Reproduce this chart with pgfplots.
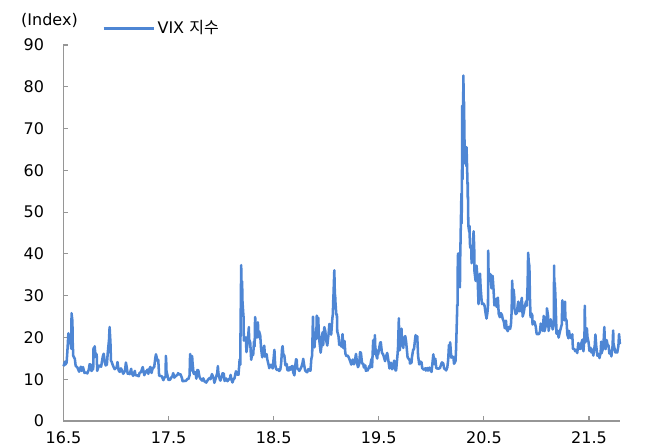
\documentclass[border=0pt]{standalone}
\usepackage{fontspec}
\setmainfont{DejaVu Sans}
\newfontfamily\kr{Noto Sans CJK KR}
\usepackage{pgfplots}
\pgfplotsset{compat=1.18}
\definecolor{vixblue}{RGB}{78,134,212}
\definecolor{axgray}{RGB}{150,150,150}

\pgfplotstableread{
x y
16.404 13.1
16.417 14.2
16.422 13.5
16.433 14.0
16.441 17.0
16.450 21.0
16.455 20.1
16.458 19.4
16.472 18.5
16.477 17.3
16.480 25.8
16.488 23.9
16.491 18.8
16.496 15.6
16.511 14.9
16.519 13.2
16.536 12.8
16.552 11.8
16.568 13.0
16.577 12.0
16.589 12.9
16.603 11.5
16.614 11.6
16.630 11.4
16.644 12.3
16.652 13.6
16.666 13.4
16.669 11.98
16.686 12.5
16.689 17.5
16.697 15.2
16.700 17.9
16.705 16.3
16.719 15.9
16.724 12.0
16.738 13.1
16.746 13.3
16.761 12.99
16.777 15.4
16.786 16.1
16.797 14.0
16.805 13.3
16.816 13.5
16.824 16.2
16.833 18.6
16.836 19.3
16.842 22.5
16.850 18.7
16.855 14.4
16.861 14.2
16.872 13.4
16.880 12.9
16.891 12.4
16.910 12.9
16.917 14.1
16.928 12.1
16.939 11.75
16.950 12.6
16.958 12.2
16.972 11.3
16.988 11.99
16.997 14.0
17.005 12.85
17.014 11.3
17.027 11.5
17.033 11.2
17.047 12.5
17.052 11.5
17.066 10.8
17.082 11.99
17.088 10.97
17.105 10.9
17.119 10.7
17.127 11.5
17.141 11.7
17.157 12.9
17.172 10.96
17.186 11.9
17.191 11.66
17.202 12.3
17.210 11.28
17.221 12.47
17.230 12.96
17.241 11.5
17.249 12.37
17.261 12.9
17.266 12.87
17.277 15.1
17.283 15.96
17.297 14.4
17.305 14.63
17.313 10.84
17.324 10.8
17.339 10.7
17.353 9.77
17.364 10.4
17.375 10.65
17.377 15.59
17.380 14.66
17.383 12.04
17.394 10.72
17.402 9.81
17.417 9.89
17.430 10.45
17.439 10.7
17.447 11.46
17.458 10.38
17.471 10.75
17.488 11.06
17.493 11.44
17.511 11.07
17.516 11.19
17.530 10.3
17.536 9.51
17.552 9.58
17.568 9.6
17.583 10.09
17.592 10.03
17.603 10.96
17.608 16.04
17.611 15.51
17.619 12.33
17.625 12.04
17.627 15.55
17.630 14.26
17.641 11.35
17.649 11.28
17.660 11.7
17.667 10.13
17.678 12.23
17.686 12.12
17.697 10.58
17.705 10.17
17.722 9.67
17.733 10.21
17.744 9.51
17.761 9.19
17.777 9.85
17.794 10.31
17.802 10.0
17.816 11.23
17.832 10.18
17.839 9.14
17.855 10.5
17.866 11.5
17.872 13.13
17.877 11.43
17.891 9.88
17.896 9.67
17.910 10.7
17.917 11.43
17.928 11.33
17.936 9.58
17.950 10.18
17.963 9.53
17.974 9.9
17.988 10.25
17.993 11.04
18.003 9.77
18.011 9.22
18.022 10.08
18.030 10.16
18.044 11.91
18.049 11.27
18.060 11.1
18.068 11.08
18.077 13.84
18.079 14.79
18.085 13.47
18.086 17.31
18.094 37.32
18.097 29.98
18.100 27.73
18.103 33.46
18.105 29.06
18.114 25.61
18.116 24.97
18.119 19.26
18.124 19.46
18.138 20.02
18.144 16.49
18.155 18.59
18.167 22.47
18.169 19.59
18.180 18.73
18.189 14.64
18.200 16.35
18.208 15.8
18.216 19.02
18.222 17.86
18.225 23.34
18.227 24.87
18.236 21.03
18.241 22.87
18.244 19.97
18.253 23.62
18.258 20.06
18.264 21.49
18.275 20.47
18.283 17.41
18.294 15.25
18.302 16.88
18.313 18.02
18.321 15.41
18.336 15.97
18.342 14.77
18.355 13.42
18.361 12.65
18.374 13.42
18.380 13.42
18.394 12.58
18.410 17.02
18.417 13.46
18.428 12.4
18.436 12.18
18.447 12.35
18.455 11.98
18.466 12.31
18.474 13.77
18.483 17.33
18.488 17.91
18.494 16.09
18.505 15.6
18.514 13.37
18.527 13.63
18.533 12.18
18.547 12.1
18.552 12.86
18.566 12.29
18.571 13.03
18.583 13.15
18.589 11.64
18.600 10.93
18.608 13.16
18.616 14.78
18.622 14.64
18.627 12.64
18.641 12.25
18.647 11.99
18.658 12.5
18.666 12.86
18.678 13.91
18.684 14.88
18.694 13.22
18.703 12.07
18.716 11.75
18.722 11.68
18.733 12.42
18.741 12.12
18.753 12.05
18.761 14.82
18.769 15.69
18.775 22.96
18.777 24.98
18.780 21.31
18.788 21.3
18.791 17.62
18.797 20.06
18.799 19.89
18.808 19.64
18.813 25.23
18.819 24.16
18.827 24.7
18.832 21.23
18.836 19.51
18.850 16.36
18.855 17.36
18.863 20.45
18.869 21.25
18.874 18.14
18.885 22.48
18.894 21.52
18.905 19.02
18.913 18.07
18.925 20.74
18.933 23.23
18.941 22.64
18.950 20.65
18.953 21.63
18.961 24.52
18.966 25.58
18.969 28.38
18.972 30.11
18.980 36.07
18.985 30.41
18.988 29.96
18.991 28.34
18.999 25.42
19.005 25.45
19.008 21.38
19.019 20.47
19.027 18.19
19.038 18.6
19.047 17.8
19.058 20.8
19.066 17.42
19.077 19.13
19.085 16.14
19.094 15.57
19.102 15.72
19.113 15.43
19.122 14.91
19.135 14.02
19.141 13.51
19.155 14.7
19.167 13.57
19.178 14.74
19.186 16.05
19.197 13.77
19.205 12.88
19.216 13.56
19.225 16.48
19.233 16.33
19.244 13.71
19.255 13.74
19.261 12.82
19.275 13.3
19.280 12.01
19.291 12.18
19.297 12.09
19.313 13.14
19.319 12.73
19.333 14.8
19.339 12.87
19.350 19.32
19.355 19.1
19.358 16.04
19.366 20.55
19.369 18.06
19.377 15.96
19.388 14.95
19.394 16.92
19.396 15.85
19.410 17.9
19.416 18.71
19.422 18.86
19.433 16.3
19.444 15.99
19.452 15.28
19.463 14.33
19.472 15.4
19.483 16.28
19.491 15.08
19.505 12.57
19.519 13.96
19.530 12.39
19.541 12.86
19.549 14.45
19.563 12.07
19.568 12.16
19.582 16.12
19.586 17.61
19.594 24.59
19.597 20.17
19.603 16.91
19.605 17.97
19.614 21.09
19.619 22.1
19.625 18.47
19.636 17.5
19.644 19.87
19.655 20.31
19.663 18.98
19.677 15.27
19.683 15.0
19.697 14.61
19.700 13.74
19.714 13.95
19.719 15.32
19.730 17.05
19.738 17.22
19.753 20.56
19.755 19.12
19.769 20.28
19.777 15.58
19.788 13.54
19.797 14.25
19.810 14.01
19.816 12.65
19.830 12.33
19.833 12.3
19.847 12.62
19.852 12.07
19.866 12.68
19.872 12.05
19.885 12.78
19.891 12.34
19.905 11.75
19.922 15.96
19.930 13.62
19.941 14.91
19.950 12.63
19.963 12.58
19.969 12.51
19.985 12.65
19.999 13.78
20.005 14.02
20.016 13.79
20.025 12.56
20.036 12.39
20.044 12.1
20.055 12.85
20.063 14.56
20.071 18.23
20.074 16.28
20.082 18.84
20.093 15.15
20.102 15.47
20.113 15.18
20.119 13.68
20.133 14.38
20.138 17.08
20.147 25.03
20.149 27.85
20.152 27.56
20.155 39.16
20.158 40.11
20.169 33.42
20.172 36.82
20.175 31.99
20.178 39.62
20.180 41.94
20.189 54.46
20.191 47.3
20.194 53.9
20.197 75.47
20.200 57.83
20.208 82.69
20.211 75.91
20.214 76.45
20.216 72.0
20.219 66.04
20.227 61.59
20.230 61.67
20.233 63.95
20.236 61.0
20.238 65.54
20.247 57.08
20.249 53.54
20.250 57.06
20.253 50.91
20.255 46.8
20.264 45.24
20.266 46.7
20.269 43.35
20.272 41.67
20.283 41.17
20.286 37.76
20.291 40.11
20.294 38.15
20.302 43.83
20.305 45.41
20.311 41.38
20.313 35.93
20.324 33.57
20.330 34.15
20.333 37.19
20.344 33.61
20.352 27.98
20.363 33.04
20.366 35.28
20.372 31.89
20.380 29.3
20.385 27.99
20.391 28.16
20.402 28.01
20.410 27.51
20.420 25.66
20.428 24.52
20.436 25.81
20.442 27.57
20.444 40.79
20.447 36.09
20.455 34.4
20.461 33.47
20.466 35.12
20.475 31.77
20.480 33.84
20.486 34.73
20.494 31.78
20.503 27.68
20.514 27.94
20.522 29.26
20.525 27.29
20.536 29.52
20.544 25.68
20.555 24.84
20.563 25.84
20.574 25.44
20.582 24.46
20.593 23.76
20.602 22.21
20.613 24.03
20.619 22.05
20.630 21.51
20.641 22.54
20.652 22.03
20.660 22.96
20.667 26.12
20.672 33.6
20.675 30.75
20.686 31.46
20.692 29.71
20.694 26.87
20.705 25.59
20.716 25.83
20.725 27.78
20.730 28.58
20.733 26.38
20.744 26.27
20.753 27.63
20.764 29.48
20.772 25.0
20.783 26.07
20.791 27.41
20.805 28.65
20.811 27.55
20.819 32.46
20.824 40.28
20.830 38.02
20.836 37.13
20.841 29.57
20.847 24.86
20.855 25.75
20.863 25.35
20.866 23.1
20.880 23.84
20.885 23.7
20.896 22.66
20.905 20.84
20.917 20.77
20.925 20.79
20.936 21.3
20.944 23.31
20.955 22.89
20.964 21.57
20.972 25.16
20.980 21.53
20.994 23.08
20.999 22.75
21.003 26.97
21.014 25.07
21.019 21.56
21.030 23.33
21.038 24.34
21.049 23.24
21.058 21.91
21.068 23.02
21.071 37.21
21.074 30.21
21.077 33.09
21.083 30.24
21.089 25.07
21.094 20.87
21.105 21.63
21.114 19.97
21.127 21.5
21.133 22.05
21.144 23.11
21.149 28.89
21.152 27.95
21.169 24.1
21.175 28.57
21.178 24.66
21.189 24.03
21.197 20.69
21.208 19.79
21.213 21.58
21.216 20.95
21.227 20.3
21.233 19.81
21.244 20.74
21.250 17.33
21.266 17.16
21.272 16.69
21.286 16.99
21.291 16.25
21.302 18.68
21.311 17.33
21.324 17.28
21.330 18.61
21.341 19.48
21.350 16.69
21.358 19.66
21.361 21.84
21.363 27.59
21.366 23.13
21.369 18.81
21.380 21.34
21.383 22.18
21.388 20.15
21.399 18.84
21.407 16.76
21.420 17.48
21.425 16.42
21.436 17.07
21.444 15.65
21.458 18.15
21.464 20.7
21.472 17.89
21.483 15.62
21.494 16.02
21.503 15.07
21.514 16.44
21.519 19.0
21.522 16.18
21.533 17.12
21.541 18.45
21.549 22.5
21.555 17.91
21.560 17.2
21.571 19.36
21.580 18.24
21.589 18.04
21.597 16.15
21.608 16.79
21.616 15.45
21.627 17.91
21.633 21.67
21.636 18.56
21.647 17.22
21.655 16.39
21.666 16.48
21.672 16.41
21.683 18.0
21.689 20.8
21.697 18.4
}\vix

\begin{document}
\begin{tikzpicture}
\useasboundingbox (0,0) rectangle (495pt,336pt);
\begin{axis}[
    at={(47.6pt,20.25pt)}, anchor=south west,
    scale only axis, width=417.4pt, height=282pt,
    xmin=16.403, xmax=21.698, ymin=0, ymax=90,
    axis x line=bottom, axis y line=left,
    axis line style={-, draw=axgray, line width=0.8pt},
    xtick={16.403,17.403,18.403,19.403,20.403,21.403},
    xticklabels={16.5,17.5,18.5,19.5,20.5,21.5},
    ytick={0,10,...,90},
    tick align=inside, major tick length=3.5pt,
    tick style={draw=axgray, line width=0.8pt},
    /pgf/number format/assume math mode=true,
    every tick label/.append style={font=\fontsize{12pt}{14pt}\selectfont, text=black},
    yticklabel style={anchor=east, xshift=-11pt},
    xticklabel style={anchor=north, yshift=-4.5pt},
    clip=false,
    legend style={at={(0.0692,1.0444)}, anchor=west, draw=none, fill=none,
        inner sep=0pt, font=\fontsize{12pt}{14pt}\selectfont},
    legend image code/.code={\draw[#1, line width=2pt] (0pt,0pt) -- (37.5pt,0pt);},
]
\addplot[vixblue, line width=1.9pt, line join=round] table[x=x, y=y] {\vix};
\addlegendentry{VIX {\kr 지수}}
\end{axis}
\node[font=\fontsize{12pt}{14pt}\selectfont] at (37.1pt,321pt) {(Index)};
\end{tikzpicture}
\end{document}
